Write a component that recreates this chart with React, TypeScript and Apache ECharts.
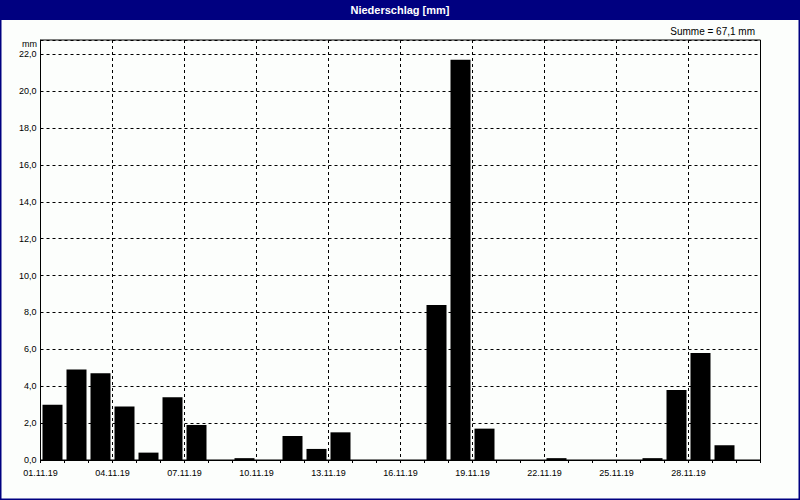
import React, { useEffect, useRef } from "react";
import * as echarts from "echarts";

const dates: string[] = [
  "01.11.19", "02.11.19", "03.11.19", "04.11.19", "05.11.19", "06.11.19",
  "07.11.19", "08.11.19", "09.11.19", "10.11.19", "11.11.19", "12.11.19",
  "13.11.19", "14.11.19", "15.11.19", "16.11.19", "17.11.19", "18.11.19",
  "19.11.19", "20.11.19", "21.11.19", "22.11.19", "23.11.19", "24.11.19",
  "25.11.19", "26.11.19", "27.11.19", "28.11.19", "29.11.19", "30.11.19",
];
const precipitation: number[] = [
  3.0, 4.9, 4.7, 2.9, 0.4, 3.4, 1.9, 0, 0.1, 0, 1.3, 0.6, 1.5, 0, 0, 0,
  8.4, 21.7, 1.7, 0, 0, 0.1, 0, 0, 0, 0.1, 3.8, 5.8, 0.8, 0,
];
const titleText = "Niederschlag [mm]";
const unitText = "mm";
const sumText = "Summe = 67,1 mm";

const FONT = "Liberation Sans";

export default function App() {
  const ref = useRef<HTMLDivElement>(null);
  useEffect(() => {
    if (!ref.current) return;
    const chart = echarts.init(ref.current, undefined, { renderer: "svg" });
    chart.setOption({
      animation: false,
      backgroundColor: "#fcfefc",
      textStyle: { fontFamily: FONT },
      grid: {
        left: 40.5,
        right: 39.5,
        top: 40,
        bottom: 40,
        show: true,
        borderColor: "#000",
        borderWidth: 1,
        backgroundColor: "transparent",
      },
      graphic: [
        {
          type: "rect",
          shape: { x: 0, y: 0, width: 800, height: 20 },
          style: { fill: "#000080" },
          silent: true,
        },
        {
          type: "rect",
          shape: { x: 0.75, y: 0.75, width: 798.5, height: 498.5 },
          style: { fill: "none", stroke: "#000080", lineWidth: 1.5 },
          silent: true,
        },
        {
          type: "text",
          x: 400,
          y: 10,
          style: {
            text: titleText,
            fill: "#ffffff",
            font: `bold 11px "${FONT}"`,
            align: "center",
            verticalAlign: "middle",
          },
        },
        {
          type: "text",
          x: 755,
          y: 31,
          style: {
            text: sumText,
            fill: "#000",
            font: `10px "${FONT}"`,
            align: "right",
            verticalAlign: "middle",
          },
        },
        {
          type: "text",
          x: 37,
          y: 44,
          style: {
            text: unitText,
            fill: "#000",
            font: `9px "${FONT}"`,
            align: "right",
            verticalAlign: "middle",
          },
        },
      ],
      xAxis: [
        {
          type: "category",
          data: dates,
          boundaryGap: true,
          axisLine: { show: true, lineStyle: { color: "#000", width: 1 } },
          axisTick: { show: true, interval: 0, length: 3, lineStyle: { color: "#000" } },
          axisLabel: { show: false },
          splitLine: { show: false },
        },
        {
          type: "value",
          min: 0,
          max: dates.length,
          interval: 3,
          position: "bottom",
          axisLine: { show: false },
          axisTick: { show: false },
          splitLine: {
            show: true,
            lineStyle: { color: "#000", type: [3, 3], width: 1 },
          },
          axisLabel: {
            show: true,
            color: "#000",
            fontSize: 9,
            fontFamily: FONT,
            margin: 8,
            showMaxLabel: false,
            formatter: (v: number) => (v < dates.length ? dates[v] : ""),
          },
        },
      ],
      yAxis: {
        type: "value",
        min: 0,
        max: 22.77,
        interval: 2,
        axisLine: { show: true, lineStyle: { color: "#000" } },
        axisTick: { show: false },
        splitLine: {
          show: true,
          lineStyle: { color: "#000", type: [3, 3], width: 1 },
        },
        axisLabel: {
          color: "#000",
          fontSize: 9,
          fontFamily: FONT,
          margin: 4,
          showMaxLabel: false,
          formatter: (v: number) =>
            Math.abs(v - Math.round(v)) < 1e-6 ? v.toFixed(1).replace(".", ",") : "",
        },
      },
      series: [
        {
          type: "bar",
          xAxisIndex: 0,
          data: precipitation,
          barWidth: 20,
          itemStyle: { color: "#000000" },
        },
      ],
    });
    return () => chart.dispose();
  }, []);
  return (
    <div
      ref={ref}
      style={{ position: "fixed", left: 0, top: 0, width: 800, height: 500 }}
    />
  );
}
